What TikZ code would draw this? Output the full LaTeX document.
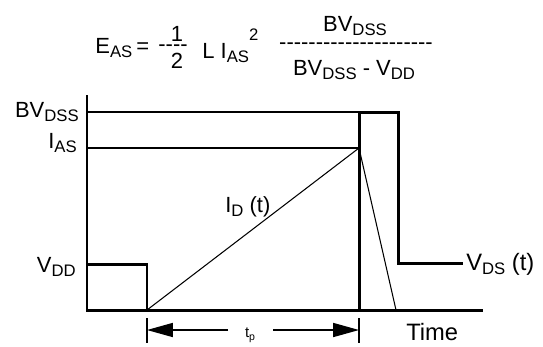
\documentclass[tikz,border=0pt]{standalone}
\usepackage{fontspec}
\setmainfont{Liberation Sans}[Ligatures=TeXOff]
\usetikzlibrary{arrows.meta}
\newcommand{\sbs}[1]{\raisebox{-2.3pt}{\fontsize{9.5}{10}\selectfont #1}}
\newcommand{\sps}[1]{\raisebox{10pt}{\fontsize{9.5}{10}\selectfont #1}}
\tikzset{
	lbl/.style={font=\fontsize{12.5}{14}\selectfont, inner sep=0pt},
	biglbl/.style={font=\fontsize{13.5}{15}\selectfont, inner sep=0pt},
	heavy/.style={line width=1.7pt},
	fine/.style={line width=0.6pt},
	dimarr/.style={-{Triangle[length=14.7pt, width=8pt]}, line width=0.7pt}
}
\begin{document}
\begin{tikzpicture}[x=0.02cm, y=-0.02cm]
	\useasboundingbox (0,0) rectangle (543,346);
	% formula
	\node[lbl, anchor=base west] (eas) at (95,53) {E\sbs{AS}};
	\node[lbl, anchor=base west] (eqs) at (136,53) {=};
	\node[lbl, anchor=base] (one) at (177,41) {1};
	\node[lbl, anchor=base] (hbar) at (173,51) {----};
	\node[lbl, anchor=base] (two) at (177,68) {2};
	\node[lbl, anchor=base west] (lia) at (202,58) {L I\sbs{AS}\sps{2}};
	\node[lbl, anchor=base] (num) at (355,31) {BV\sbs{DSS}};
	\node[lbl, anchor=base] (fbar) at (356,49) {---------------------};
	\node[lbl, anchor=base] (den) at (354,75) {BV\sbs{DSS} - V\sbs{DD}};
	% axes
	\coordinate (top) at (87,95);
	\coordinate (orig) at (87,310);
	\coordinate (tend) at (483,310);
	\draw[heavy] (top) -- (orig) -- (tend);
	% V_DD before avalanche
	\coordinate (vdd) at (87,264);
	\coordinate (tav) at (147,310);
	\draw[heavy] (vdd) -| (tav);
	% levels
	\coordinate (bvl) at (87,112);
	\coordinate (bvr) at (359,112);
	\coordinate (ial) at (87,148);
	\coordinate (iar) at (359,148);
	\draw[fine] (bvl) -- (bvr);
	\draw[fine] (ial) -- (iar);
	% drain current
	\coordinate (ifall) at (396,310);
	\draw[fine] (tav) -- (iar) -- (ifall);
	% drain voltage
	\coordinate (tbr) at (359,310);
	\coordinate (clamp) at (398,112);
	\coordinate (clampend) at (398,263);
	\coordinate (vdsend) at (463,263);
	\draw[heavy] (tbr) -- (bvr) -- (clamp) -- (clampend) -- (vdsend);
	% axis labels
	\node[lbl, anchor=base east] (bvlab) at (79,117) {BV\sbs{DSS}};
	\node[lbl, anchor=base east] (ialab) at (77,148) {I\sbs{AS}};
	\node[lbl, anchor=base east] (vddlab) at (76,272) {V\sbs{DD}};
	\node[lbl, anchor=base west] (idlab) at (225,212) {I\sbs{D} (t)};
	\node[biglbl, anchor=base west] (vdslab) at (466,270) {V\sbs{DS} (t)};
	\node[biglbl, anchor=base west] (timelab) at (406,340) {Time};
	% t_p
	\coordinate (lbt) at (147,318);
	\coordinate (lbb) at (147,343);
	\coordinate (rbt) at (359,318);
	\coordinate (rbb) at (359,343);
	\draw[fine] (lbt) -- (lbb);
	\draw[fine] (rbt) -- (rbb);
	\node[font=\fontsize{8.5}{10}\selectfont, inner sep=0pt, anchor=base] (tp) at (250,337) {t\raisebox{-2pt}{\fontsize{6}{7}\selectfont p}};
	\coordinate (la) at (228,330);
	\coordinate (tpl) at (147,330);
	\coordinate (ra) at (273,330);
	\coordinate (tpr) at (359,330);
	\draw[dimarr] (la) -- (tpl);
	\draw[dimarr] (ra) -- (tpr);
\end{tikzpicture}
\end{document}
